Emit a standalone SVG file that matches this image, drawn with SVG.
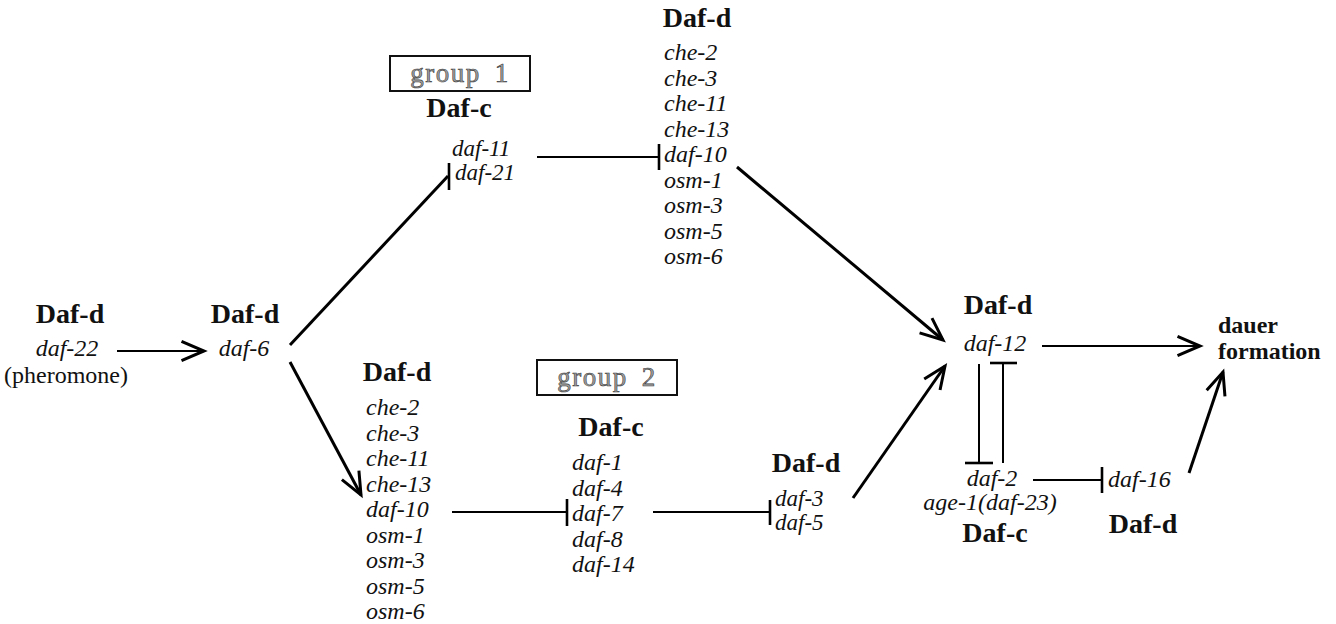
<svg xmlns="http://www.w3.org/2000/svg" width="1336" height="624" viewBox="0 0 1336 624">
  <defs>
    <marker id="arrow" markerUnits="userSpaceOnUse" markerWidth="30" markerHeight="30" viewBox="-24 -12 28 24" refX="0" refY="0" orient="auto">
      <path d="M-21,-9 L0,0 L-21,9" fill="none" stroke="#000" stroke-width="2.8" stroke-linejoin="miter"/>
    </marker>
    <style>
      text { font-family: "Liberation Serif", "Times New Roman", serif; fill: #111; }
      .cls { font-weight: bold; font-size: 28px; text-anchor: middle; }
      .gene { font-style: italic; font-size: 24px; }
      .pair { font-style: italic; font-size: 23px; }
      .mid { text-anchor: middle; }
      .plain { font-size: 24px; text-anchor: middle; }
      .grp { font-size: 27px; text-anchor: middle; fill: #a0a0a0; stroke: #3a3a3a; stroke-width: 0.6; letter-spacing: 1.5px; }
      .out { font-weight: bold; font-size: 24px; }
      .box { fill: #fff; stroke: #111; stroke-width: 2; }
      .edge { fill: none; stroke: #000; stroke-width: 3; }
      .thin { fill: none; stroke: #000; stroke-width: 2; }
      .bar { fill: none; stroke: #000; stroke-width: 2.6; }
    </style>
  </defs>

  <!-- pheromone source -->
  <g id="daf-22">
    <text class="cls" x="70" y="323">Daf-d</text>
    <text class="gene mid" x="67" y="356">daf-22</text>
    <text class="plain" x="66" y="383">(pheromone)</text>
  </g>

  <g id="daf-6">
    <text class="cls" x="245" y="323">Daf-d</text>
    <text class="gene mid" x="244" y="356">daf-6</text>
  </g>

  <!-- group 1 Daf-c -->
  <g id="group1-dafc">
    <rect class="box" x="390" y="56" width="140" height="35"/>
    <text class="grp" x="460" y="82">group<tspan dx="14">1</tspan></text>
    <text class="cls" x="459" y="117">Daf-c</text>
    <text class="pair" x="452" y="156">daf-11</text>
    <text class="pair" x="455" y="180">daf-21</text>
  </g>

  <!-- upper Daf-d cilia genes -->
  <g id="upper-dafd">
    <text class="cls" x="697" y="27">Daf-d</text>
    <text class="gene" x="664" y="60">che-2</text>
    <text class="gene" x="664" y="85.5">che-3</text>
    <text class="gene" x="664" y="111">che-11</text>
    <text class="gene" x="664" y="136.5">che-13</text>
    <text class="gene" x="664" y="162">daf-10</text>
    <text class="gene" x="664" y="187.5">osm-1</text>
    <text class="gene" x="664" y="213">osm-3</text>
    <text class="gene" x="664" y="238.5">osm-5</text>
    <text class="gene" x="664" y="264">osm-6</text>
  </g>

  <!-- lower Daf-d cilia genes -->
  <g id="lower-dafd">
    <text class="cls" x="397" y="381">Daf-d</text>
    <text class="gene" x="366" y="415">che-2</text>
    <text class="gene" x="366" y="440.5">che-3</text>
    <text class="gene" x="366" y="466">che-11</text>
    <text class="gene" x="366" y="491.5">che-13</text>
    <text class="gene" x="366" y="517">daf-10</text>
    <text class="gene" x="366" y="542.5">osm-1</text>
    <text class="gene" x="366" y="568">osm-3</text>
    <text class="gene" x="366" y="593.5">osm-5</text>
    <text class="gene" x="366" y="619">osm-6</text>
  </g>

  <!-- group 2 Daf-c -->
  <g id="group2-dafc">
    <rect class="box" x="537" y="360" width="140" height="35"/>
    <text class="grp" x="607" y="386">group<tspan dx="14">2</tspan></text>
    <text class="cls" x="611" y="436">Daf-c</text>
    <text class="gene" x="572" y="470">daf-1</text>
    <text class="gene" x="572" y="495.5">daf-4</text>
    <text class="gene" x="572" y="521">daf-7</text>
    <text class="gene" x="572" y="546.5">daf-8</text>
    <text class="gene" x="572" y="572">daf-14</text>
  </g>

  <g id="daf-3-5">
    <text class="cls" x="806" y="472">Daf-d</text>
    <text class="pair" x="775" y="506">daf-3</text>
    <text class="pair" x="775" y="530">daf-5</text>
  </g>

  <g id="daf-12">
    <text class="cls" x="998" y="314">Daf-d</text>
    <text class="gene mid" x="995" y="351">daf-12</text>
  </g>

  <g id="daf-2">
    <text class="gene mid" x="992" y="486">daf-2</text>
    <text class="gene mid" x="990" y="510">age-1(daf-23)</text>
    <text class="cls" x="995" y="542">Daf-c</text>
  </g>

  <g id="daf-16">
    <text class="gene" x="1108" y="487">daf-16</text>
    <text class="cls" x="1143" y="533">Daf-d</text>
  </g>

  <g id="dauer">
    <text class="out" x="1218" y="333">dauer</text>
    <text class="out" x="1218" y="359">formation</text>
  </g>

  <!-- connectors -->
  <g id="connectors">
    <!-- daf-22 -> daf-6 -->
    <line class="thin" x1="117" y1="351" x2="204" y2="351" marker-end="url(#arrow)"/>
    <!-- daf-6 -| daf-11/daf-21 -->
    <line class="edge" x1="290" y1="345" x2="448" y2="176"/>
    <line class="bar" x1="449" y1="163" x2="449" y2="190"/>
    <!-- daf-6 -> lower cilia genes -->
    <line class="edge" x1="290" y1="362" x2="361" y2="495" marker-end="url(#arrow)"/>
    <!-- daf-11/21 -| upper cilia genes -->
    <line class="thin" x1="537" y1="157" x2="659" y2="157"/>
    <line class="bar" x1="659" y1="144" x2="659" y2="170"/>
    <!-- upper cilia genes -> daf-12 -->
    <line class="edge" x1="737" y1="167" x2="943" y2="340" marker-end="url(#arrow)"/>
    <!-- lower daf-10 -| daf-7 -->
    <line class="thin" x1="452" y1="512" x2="567" y2="512"/>
    <line class="bar" x1="567" y1="499" x2="567" y2="526"/>
    <!-- daf-7 -| daf-3/daf-5 -->
    <line class="thin" x1="653" y1="512" x2="770" y2="512"/>
    <line class="bar" x1="770" y1="500" x2="770" y2="525"/>
    <!-- daf-3/5 -> daf-12 -->
    <line class="edge" x1="853" y1="498" x2="945" y2="366" marker-end="url(#arrow)"/>
    <!-- daf-12 -> dauer formation -->
    <line class="thin" x1="1042" y1="346" x2="1200" y2="346" marker-end="url(#arrow)"/>
    <!-- daf-12 -| daf-2 -->
    <line class="thin" x1="979" y1="364" x2="979" y2="463"/>
    <line class="bar" x1="965" y1="463" x2="993" y2="463"/>
    <!-- daf-2 -| daf-12 -->
    <line class="thin" x1="1003" y1="463" x2="1003" y2="363"/>
    <line class="bar" x1="990" y1="363" x2="1017" y2="363"/>
    <!-- daf-2 -| daf-16 -->
    <line class="thin" x1="1033" y1="480" x2="1102" y2="480"/>
    <line class="bar" x1="1102" y1="467" x2="1102" y2="493"/>
    <!-- daf-16 -> dauer formation -->
    <line class="edge" x1="1189" y1="473" x2="1223" y2="372" marker-end="url(#arrow)"/>
  </g>
</svg>
